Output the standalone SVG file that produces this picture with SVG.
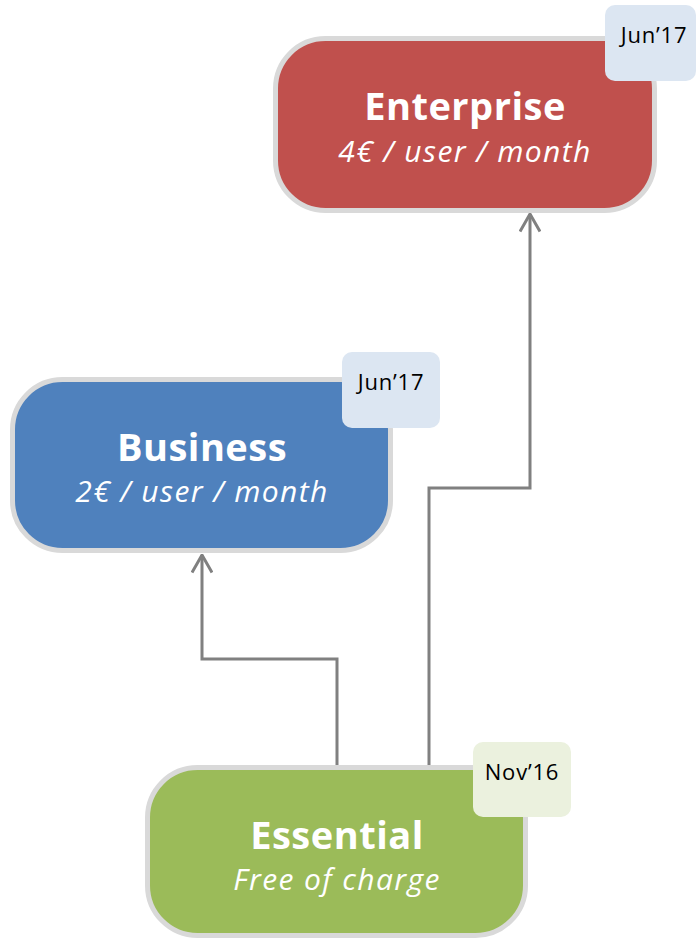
<svg xmlns="http://www.w3.org/2000/svg" width="696" height="938" viewBox="0 0 696 938">
<style>
.box{stroke:#d9d9d9;stroke-width:5}
.title{font-family:"Open Sans","Noto Sans",sans-serif;font-weight:bold;font-size:38px;fill:#fff;text-anchor:middle;letter-spacing:0.5px}
.sub{font-family:"Open Sans","Noto Sans",sans-serif;font-style:italic;font-size:30px;fill:#fff;text-anchor:middle;letter-spacing:1.4px}
.date{font-family:"Open Sans","Noto Sans",sans-serif;font-size:22px;fill:#000;text-anchor:middle;letter-spacing:0.8px}
.conn{fill:none;stroke:#808080;stroke-width:3}
</style>
<defs>
<marker id="arr" viewBox="0 0 20 22" refX="18.5" refY="11" markerWidth="20" markerHeight="22" markerUnits="userSpaceOnUse" orient="auto">
<path d="M1,1 L18.5,11 L1,21" fill="none" stroke="#808080" stroke-width="3"/>
</marker>
</defs>
<g id="connectors">
<path class="conn" d="M337,767 V659 H202 V555" marker-end="url(#arr)"/>
<path class="conn" d="M429,770 V488 H530 V214" marker-end="url(#arr)"/>
</g>
<g id="enterprise">
<rect class="box" x="275.5" y="38.5" width="379" height="172" rx="50" fill="#c0504d"/>
<rect x="605" y="5" width="91" height="76" rx="10" fill="#dce6f2"/>
<text class="date" x="654" y="43">Jun’17</text>
<text class="title" x="465" y="120">Enterprise</text>
<text class="sub" x="465" y="162">4€ / user / month</text>
</g>
<g id="business">
<rect class="box" x="12.5" y="379.5" width="378" height="171" rx="50" fill="#4f81bd"/>
<rect x="342" y="352" width="98" height="76" rx="10" fill="#dce6f2"/>
<text class="date" x="391" y="390">Jun’17</text>
<text class="title" x="202" y="461">Business</text>
<text class="sub" x="202" y="502">2€ / user / month</text>
</g>
<g id="essential">
<rect class="box" x="147.5" y="767.5" width="378" height="168" rx="50" fill="#9bbb59"/>
<rect x="473" y="742" width="98" height="75" rx="10" fill="#ebf1de"/>
<text class="date" x="522" y="780">Nov’16</text>
<text class="title" x="337" y="849">Essential</text>
<text class="sub" x="337" y="890">Free of charge</text>
</g>
</svg>
